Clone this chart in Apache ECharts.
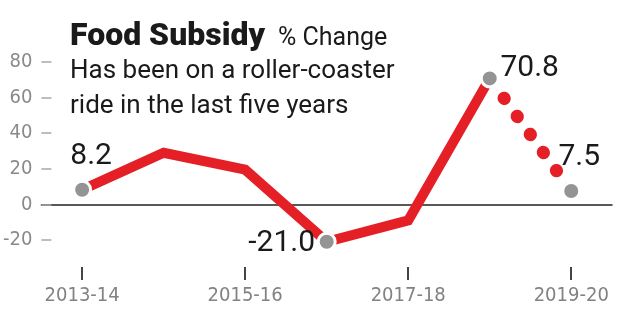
<!DOCTYPE html>
<html>
<head>
<meta charset="utf-8">
<script src="https://cdn.jsdelivr.net/npm/echarts@6/dist/echarts.min.js"></script>
<style>
  html, body { margin: 0; padding: 0; background: #fff; }
  #chart { width: 624px; height: 328px; }
</style>
</head>
<body>
<div id="chart"></div>
<script>
// Fiscal years on the x axis
const years = ['2013-14', '2014-15', '2015-16', '2016-17', '2017-18', '2018-19', '2019-20'];
// Year-on-year change in food subsidy, %
const changes = [8.2, 29, 19.5, -21.0, -9, 70.8, 7.5];
// The last step (2018-19 -> 2019-20) is drawn dotted
const dottedFrom = 5;
// Years whose value is called out with a grey dot and a number
const calloutYears = [0, 3, 5, 6];
// Y axis ticks
const yTicks = { min: -20, max: 80, step: 20 };

const RED = '#e41f26';
const GREY = '#949494';
const NARROW = "'Liberation Sans Narrow', 'DejaVu Sans Condensed', 'Roboto Condensed', Roboto, sans-serif";

// Label placement for each called-out point (offset from the dot centre)
const calloutOffsets = { 0: [9, -33], 3: [-45, 2], 5: [40, -10], 6: [8, -34] };

const solidData = changes.map((v, i) => (i <= dottedFrom ? v : '-'));
const dottedData = changes.map((v, i) => (i >= dottedFrom ? v : '-'));
const dotData = changes.map((v, i) => {
  if (!calloutYears.includes(i)) return '-';
  return {
    value: v,
    label: { offset: calloutOffsets[i] }
  };
});

const chart = echarts.init(document.getElementById('chart'), null, { renderer: 'canvas' });

chart.setOption({
  animation: false,
  backgroundColor: '#fff',
  grid: { left: 41, right: 12, top: 62, bottom: 88 },
  graphic: [
    {
      type: 'text', left: 70, top: 21,
      style: { text: 'Food Subsidy', font: '900 32px Roboto', fill: '#1a1a1a' }
    },
    {
      type: 'text', left: 278, top: 26,
      style: { text: '% Change', font: '400 25px Roboto', fill: '#1a1a1a' }
    },
    {
      type: 'text', left: 70, top: 58,
      style: { text: 'Has been on a roller-coaster', font: '400 26px Roboto', fill: '#1a1a1a' }
    },
    {
      type: 'text', left: 70, top: 93,
      style: { text: 'ride in the last five years', font: '400 26px Roboto', fill: '#1a1a1a' }
    }
  ],
  xAxis: [
    {
      // zero line
      type: 'category',
      data: years,
      position: 'bottom',
      axisLine: { show: true, onZero: true, lineStyle: { color: '#222', width: 1.5 } },
      axisTick: { show: false },
      axisLabel: { show: false },
      splitLine: { show: false }
    },
    {
      type: 'category',
      data: years,
      position: 'bottom',
      offset: 27,
      axisLine: { show: false, onZero: false },
      axisTick: { show: true, alignWithLabel: true, length: 13, lineStyle: { color: '#444', width: 2 } },
      axisLabel: {
        interval: 1,
        margin: 19,
        fontFamily: NARROW,
        fontSize: 20,
        color: '#828282'
      },
      splitLine: { show: false }
    }
  ],
  yAxis: {
    type: 'value',
    min: yTicks.min,
    max: yTicks.max,
    interval: yTicks.step,
    axisLine: { show: false },
    axisTick: { show: true, inside: true, length: 10, lineStyle: { color: '#a8a8a8', width: 1.5 } },
    axisLabel: {
      margin: 9,
      fontFamily: NARROW,
      fontSize: 20,
      color: '#8a8a8a'
    },
    splitLine: { show: false }
  },
  series: [
    {
      type: 'line',
      data: solidData,
      showSymbol: false,
      clip: false,
      z: 3,
      lineStyle: { color: RED, width: 10, join: 'miter', cap: 'butt' }
    },
    {
      type: 'line',
      data: dottedData,
      showSymbol: false,
      clip: false,
      z: 3,
      lineStyle: { color: RED, width: 13, type: [0.5, 21.8], dashOffset: -2.1, cap: 'round' }
    },
    {
      type: 'scatter',
      data: dotData,
      clip: false,
      z: 5,
      symbol: 'circle',
      symbolSize: 17,
      itemStyle: { color: GREY, borderColor: '#fff', borderWidth: 3, opacity: 1 },
      label: {
        show: true,
        position: 'inside',
        formatter: p => Number(p.value).toFixed(1),
        fontFamily: 'Roboto',
        fontSize: 30,
        color: '#1a1a1a'
      }
    }
  ]
});
</script>
</body>
</html>
